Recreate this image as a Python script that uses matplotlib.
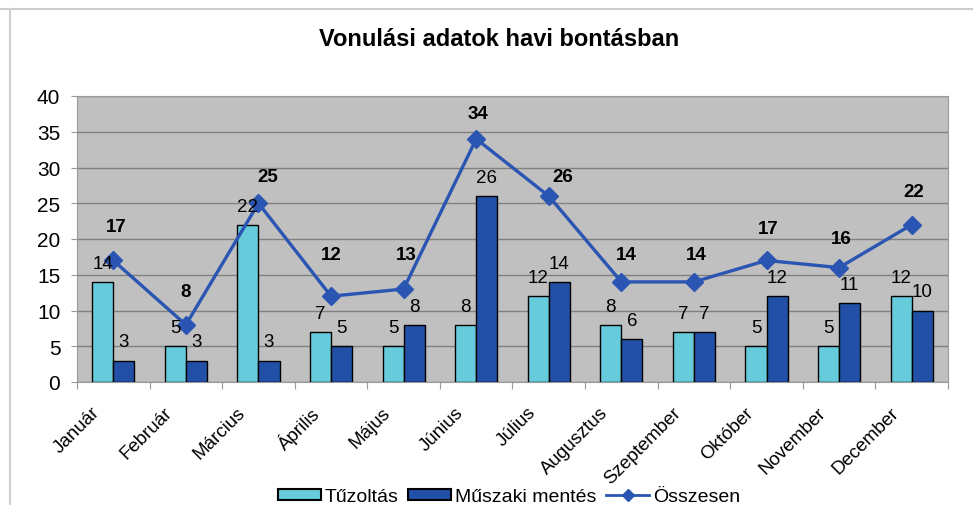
import numpy as np
import matplotlib
matplotlib.use("Agg")
import matplotlib.pyplot as plt
from matplotlib.lines import Line2D

plt.rcParams['font.family'] = ['Liberation Sans', 'DejaVu Sans']

months = ["Január", "Február", "Március", "Április", "Május", "Június",
          "Július", "Augusztus", "Szeptember", "Október", "November", "December"]
tuzoltas = [14, 5, 22, 7, 5, 8, 12, 8, 7, 5, 5, 12]
muszaki = [3, 3, 3, 5, 8, 26, 14, 6, 7, 12, 11, 10]
osszesen = [17, 8, 25, 12, 13, 34, 26, 14, 14, 17, 16, 22]

# hand placed total labels in the original (offset in data units)
tot_dy = [4.8, 4.6, 3.7, 5.9, 4.9, 3.5, 2.8, 3.9, 3.9, 4.4, 4.0, 4.7]
tot_dx = [0.04, 0.0, 0.13, 0.0, 0.03, 0.03, 0.19, 0.07, 0.03, 0.03, 0.03, 0.03]

c_light = "#66CCDC"
c_dark = "#2150A6"
c_line = "#2A55B2"

fig = plt.figure(figsize=(9.73, 5.06), dpi=100)
ax = fig.add_axes([77/973, 1 - 383/506, (948-77)/973, (383-97)/506])
ax.set_facecolor("#C0C0C0")

x = np.arange(len(months))
w = 0.29
ax.bar(x - w/2, tuzoltas, w, color=c_light, edgecolor="black", linewidth=1, zorder=3)
ax.bar(x + w/2, muszaki, w, color=c_dark, edgecolor="black", linewidth=1, zorder=3)
ax.plot(x, osszesen, color=c_line, lw=2.4, marker="D", ms=9, zorder=4)

for i in range(len(x)):
    ax.text(x[i] - w/2, tuzoltas[i] + 2.6, str(tuzoltas[i]), ha="center", va="center",
            fontsize=13.5, zorder=5)
    ax.text(x[i] + w/2, muszaki[i] + 2.6, str(muszaki[i]), ha="center", va="center",
            fontsize=13.5, zorder=5)
    ax.text(x[i] + tot_dx[i], osszesen[i] + tot_dy[i], str(osszesen[i]), ha="center",
            va="center", fontsize=13.5, fontweight="bold", zorder=5)

ax.set_xlim(-0.5, len(months) - 0.5)
ax.set_ylim(0, 40)
ax.set_yticks(range(0, 41, 5))
ax.yaxis.grid(True, color="#808080", lw=1, zorder=0)
ax.set_axisbelow(True)
ax.tick_params(axis="y", labelsize=15, length=4, pad=8, color="#999999")
ax.set_xticks(np.arange(-0.5, len(months), 1))
ax.set_xticklabels([])
ax.tick_params(axis="x", length=5, color="#999999")
for i, m in enumerate(months):
    ax.text(i - 0.3, -3.0, m, rotation=45, ha="right", va="top", fontsize=13.5,
            rotation_mode="anchor")
for s in ["top", "right", "left", "bottom"]:
    ax.spines[s].set_color("#999999")

fig.text(499/973, 1 - 40/506, "Vonulási adatok havi bontásban", ha="center", va="center",
         fontsize=17, fontweight="bold")

# chart border lines
fig.add_artist(Line2D([0, 1], [1 - 10/506, 1 - 10/506], color="#C8CDD0", lw=1.5))
fig.add_artist(Line2D([10/973, 10/973], [0, 1 - 10/506], color="#D0D0D0", lw=1.5))

handles = [plt.Rectangle((0, 0), 1, 1, fc=c_light, ec="black", lw=1.5),
           plt.Rectangle((0, 0), 1, 1, fc=c_dark, ec="black", lw=1.5),
           Line2D([], [], color=c_line, lw=2, marker="D", ms=6)]
fig.legend(handles, ["Tűzoltás", "Műszaki mentés", "Összesen"], loc="center",
           bbox_to_anchor=(509/973, 1 - 498/506), ncol=3, frameon=False, fontsize=14,
           handlelength=2.2, handleheight=0.5, handletextpad=0.2, columnspacing=0.5,
           borderpad=0)

fig.savefig("out.png", dpi=100)
